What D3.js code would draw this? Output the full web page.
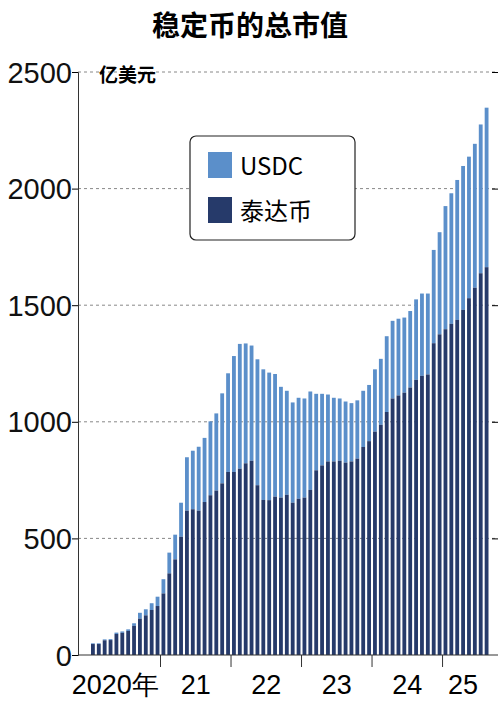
<!DOCTYPE html>
<html><head><meta charset="utf-8">
<script src="https://cdn.jsdelivr.net/npm/d3@7"></script>
<style>body{margin:0;background:#fff;font-family:"Noto Sans CJK SC","Liberation Sans",sans-serif}</style>
</head><body>
<script>
// monthly, Jan 2020 - Aug 2025 (100 million USD)
const total = [50,50,67,68,96,101,110,136,181,196,222,250,325,439,516,653,848,876,893,931,1002,1036,1122,1208,1282,1334,1336,1327,1268,1225,1211,1205,
  1150,1133,1083,1103,1100,1130,1120,1120,1117,1103,1100,1087,1080,1092,1133,1158,1225,1270,1367,1433,1442,1447,1475,1525,1550,1550,1737,1813,1925,1980,2037,2097,2137,2192,2275,2347];
const tether = [47,47,63,64,90,95,103,125,156,170,193,210,264,350,410,507,619,625,619,656,685,705,736,785,785,799,822,833,728,665,664,679,
  675,687,653,670,675,708,792,813,830,830,833,825,830,842,892,917,958,987,1042,1100,1113,1125,1147,1180,1197,1203,1337,1375,1397,1420,1437,1480,1530,1575,1637,1663];
const usdc = total.map((t, i) => t - tether[i]);
const yearLabels = ["2020年", "21", "22", "23", "24", "25"];
const yTicks = [0, 500, 1000, 1500, 2000, 2500];

const w = 500, h = 703;
const svg = d3.select('body').append('svg').attr('width', w).attr('height', h);

const x = d3.scaleBand().domain(d3.range(total.length)).range([91, 488.5]).paddingInner(0.35);
const y = d3.scaleLinear().domain([0, 2500]).range([655, 72]);

svg.append('text').attr('x', 250).attr('y', 36).attr('text-anchor', 'middle')
  .attr('font-size', 28).attr('font-weight', 'bold').text('稳定币的总市值');

// grid
svg.selectAll('.grid').data(yTicks.slice(1)).enter().append('line')
  .attr('x1', 78).attr('x2', 498).attr('y1', d => y(d)).attr('y2', d => y(d))
  .attr('stroke', '#888').attr('stroke-dasharray', '3,3');

svg.append('text').attr('x', 99).attr('y', 82).attr('font-size', 19).attr('font-weight', 'bold').text('亿美元');

const idx = d3.range(total.length);
svg.selectAll('.usdc').data(idx).enter().append('rect')
  .attr('x', i => x(i)).attr('width', x.bandwidth())
  .attr('y', i => y(total[i])).attr('height', i => y(tether[i]) - y(total[i]))
  .attr('fill', '#5b8fca');
svg.selectAll('.tether').data(idx).enter().append('rect')
  .attr('x', i => x(i)).attr('width', x.bandwidth())
  .attr('y', i => y(tether[i])).attr('height', i => y(0) - y(tether[i]))
  .attr('fill', '#263a6a');

// axes
const yAxis = svg.append('g').attr('transform', 'translate(78,0)')
  .call(d3.axisLeft(y).tickValues(yTicks).tickSize(6).tickFormat(d3.format('d')));
yAxis.selectAll('text').attr('font-size', 29).attr('font-family', 'Liberation Sans Narrow, Liberation Sans').attr('fill', '#111').attr('x', -6).attr('dy', '0.35em');
yAxis.select('.domain').attr('stroke', '#333');

svg.append('g').attr('transform', 'translate(498,0)')
  .call(d3.axisLeft(y).tickValues(yTicks.slice(1)).tickSize(6).tickFormat(''))
  .select('.domain').remove();

svg.append('line').attr('x1', 78).attr('x2', 498).attr('y1', y(0)).attr('y2', y(0)).attr('stroke', '#333');

const step = x.step();
yearLabels.forEach((lab, k) => {
  const start = x(k * 12) - step * 0.17;
  if (k > 0) svg.append('line').attr('x1', start).attr('x2', start)
    .attr('y1', y(0)).attr('y2', y(0) + 12).attr('stroke', '#333');
  const mid = k === 0 ? start + 6 * step - 10 : (k === 5 ? start + 3.5 * step : start + 6 * step);
  svg.append('text').attr('x', mid).attr('y', 694).attr('text-anchor', 'middle')
    .attr('font-size', 27).attr('font-family', 'Liberation Sans Narrow, Liberation Sans').text(lab);
});

// legend
const lg = svg.append('g');
lg.append('rect').attr('x', 190).attr('y', 136).attr('width', 165).attr('height', 104).attr('rx', 6)
  .attr('fill', '#fff').attr('stroke', '#222').attr('stroke-width', 1.2);
[['USDC', '#5b8fca'], ['泰达币', '#263a6a']].forEach(([t, c], k) => {
  lg.append('rect').attr('x', 208).attr('y', 152 + k * 45).attr('width', 24).attr('height', 26).attr('fill', c);
  lg.append('text').attr('x', 240).attr('y', 175 + k * 45).attr('font-size', 24).text(t);
});
</script>
</body></html>
